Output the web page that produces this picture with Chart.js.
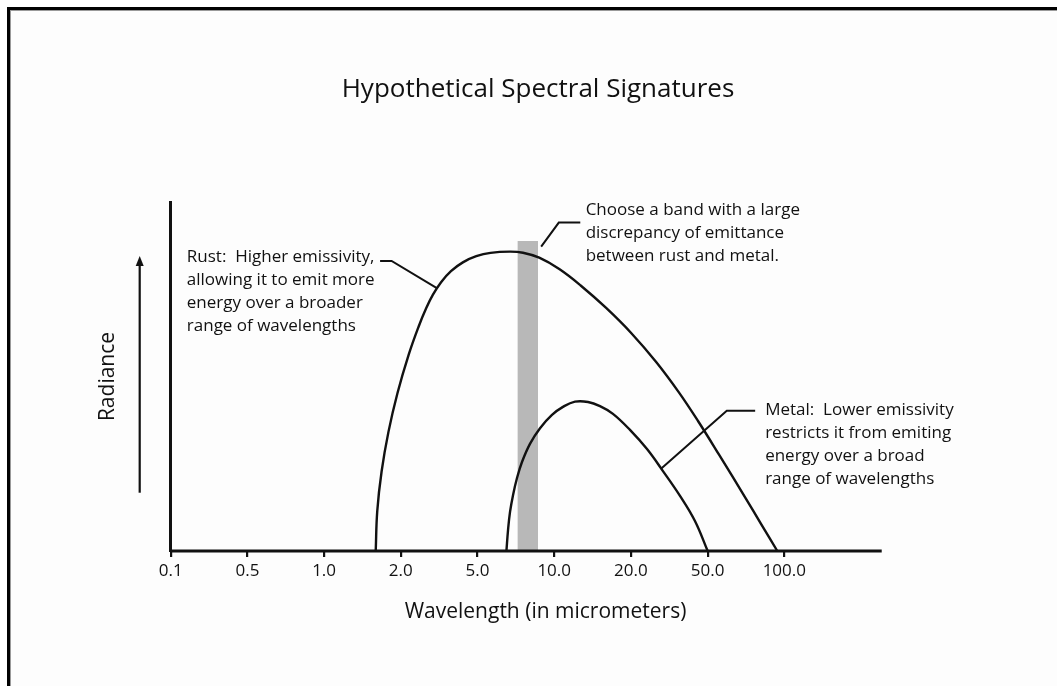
<!DOCTYPE html>
<html>
<head>
<meta charset="utf-8">
<title>Hypothetical Spectral Signatures</title>
<script src="https://cdn.jsdelivr.net/npm/chart.js@4.4.1/dist/chart.umd.min.js"></script>
<style>
  html, body { margin: 0; padding: 0; background: #fff; }
  #wrap { width: 1057px; height: 686px; position: relative; }
</style>
</head>
<body>
<div id="wrap"><canvas id="spectralChart"></canvas></div>
<script>
// Wavelength ticks (micrometers), evenly spaced on the axis
const tickLabels = ['0.1', '0.5', '1.0', '2.0', '5.0', '10.0', '20.0', '50.0', '100.0'];

// x = position on the tick scale (0 -> 0.1, 8 -> 100.0), y = radiance (0-100)
const rustX = [2.673, 2.693, 2.750, 2.839, 2.957, 3.103, 3.233, 3.332, 3.419, 3.525, 3.654, 3.809, 3.984,
  4.170, 4.424, 4.593, 4.805, 5.066, 5.345, 5.677, 6.009, 6.332, 6.621, 6.875, 7.151, 7.491, 7.700, 7.909];
const rustY = [0, 11.45, 22.84, 34.13, 45.28, 56.26, 64.34, 69.62, 73.45, 77.03, 80.19, 82.71, 84.46,
  85.43, 85.78, 85.46, 84.04, 80.79, 76.08, 69.63, 62.33, 54.08, 45.59, 37.25, 27.53, 15.30, 7.65, 0];

const metalX = [4.377, 4.398, 4.424, 4.463, 4.515, 4.580, 4.684, 4.815, 4.971, 5.114, 5.271, 5.441, 5.597,
  5.766, 5.988, 6.210, 6.418, 6.640, 6.835, 7.001];
const metalY = [0, 6.0, 11.2, 16.0, 20.9, 25.5, 30.7, 35.2, 39.0, 41.3, 42.8, 42.7, 41.5,
  39.3, 34.7, 29.2, 22.9, 15.8, 8.6, 0];

// chosen band
const bandX = [4.52, 4.79];
const bandTop = 88.8;

// the x axis line stops a little after the 100.0 tick
const axisX = [0, 9.27];

// radiance arrow (bottom, tip)
const radianceArrow = [16.7, 84.5];

const notes = [
  {
    lines: ['Rust:  Higher emissivity,', 'allowing it to emit more', 'energy over a broader', 'range of wavelengths'],
    at: [0.21, 84.3],
    leader: [[2.73, 83.1], [2.88, 83.1], [3.47, 75.3]]
  },
  {
    lines: ['Choose a band with a large', 'discrepancy of emittance', 'between rust and metal.'],
    at: [5.41, 97.7],
    leader: [[4.83, 87.2], [5.06, 94.1], [5.34, 94.1]]
  },
  {
    lines: ['Metal:  Lower emissivity', 'restricts it from emiting', 'energy over a broad', 'range of wavelengths'],
    at: [7.75, 40.4],
    leader: [[6.40, 23.7], [7.25, 40.2], [7.62, 40.2]]
  }
];

const zip = (xs, ys) => xs.map((x, i) => ({ x: x, y: ys[i] }));

Chart.defaults.font.family = '"Open Sans", "DejaVu Sans", sans-serif';
Chart.defaults.color = '#111';

const INK = '#111';

// page frame + white background
const framePlugin = {
  id: 'frame',
  beforeDraw(chart) {
    const ctx = chart.ctx;
    ctx.save();
    ctx.fillStyle = '#fdfdfd';
    ctx.fillRect(0, 0, chart.width, chart.height);
    ctx.fillStyle = '#000';
    ctx.fillRect(7, 7, chart.width - 7, 3);
    ctx.fillRect(7, 7, 3, chart.height - 7);
    ctx.fillStyle = '#9a9a9a';
    ctx.fillRect(10, 10, chart.width - 10, 1);
    ctx.fillRect(10, 10, 1, chart.height - 10);
    ctx.restore();
  }
};

// leader lines, callout text and the radiance arrow
const notesPlugin = {
  id: 'notes',
  afterDatasetsDraw(chart) {
    const { ctx, scales: { x, y }, chartArea } = chart;
    ctx.save();
    ctx.strokeStyle = INK;
    ctx.fillStyle = INK;
    ctx.lineWidth = 2;

    notes.forEach(n => {
      ctx.beginPath();
      n.leader.forEach((p, i) => {
        const px = x.getPixelForValue(p[0]);
        const py = y.getPixelForValue(p[1]);
        if (i === 0) ctx.moveTo(px, py); else ctx.lineTo(px, py);
      });
      ctx.stroke();

      ctx.font = '17px "Open Sans", sans-serif';
      ctx.textAlign = 'left';
      ctx.textBaseline = 'middle';
      const tx = x.getPixelForValue(n.at[0]);
      const ty = y.getPixelForValue(n.at[1]);
      n.lines.forEach((t, i) => ctx.fillText(t, tx, ty + i * 23));
    });

    // arrow beside the y axis
    const ax = chartArea.left - 31;
    const y0 = y.getPixelForValue(radianceArrow[0]);
    const y1 = y.getPixelForValue(radianceArrow[1]);
    ctx.lineWidth = 2.2;
    ctx.beginPath();
    ctx.moveTo(ax, y0);
    ctx.lineTo(ax, y1 + 8);
    ctx.stroke();
    ctx.beginPath();
    ctx.moveTo(ax, y1);
    ctx.lineTo(ax - 4, y1 + 10);
    ctx.lineTo(ax + 4, y1 + 10);
    ctx.closePath();
    ctx.fill();
    ctx.restore();
  }
};

const lineStyle = {
  borderColor: INK,
  borderWidth: 2.4,
  pointRadius: 0,
  tension: 0.4,
  fill: false,
  clip: false
};

new Chart(document.getElementById('spectralChart'), {
  type: 'line',
  data: {
    datasets: [
      Object.assign({ label: 'Rust', data: zip(rustX, rustY) }, lineStyle),
      Object.assign({ label: 'Metal', data: zip(metalX, metalY) }, lineStyle),
      {
        label: 'Axis',
        data: zip(axisX, [0, 0]),
        borderColor: INK,
        borderWidth: 3,
        pointRadius: 0,
        clip: false
      },
      {
        label: 'Band',
        data: zip(bandX, [bandTop, bandTop]),
        borderWidth: 0,
        pointRadius: 0,
        backgroundColor: '#b8b8b8',
        fill: 'origin'
      }
    ]
  },
  options: {
    responsive: true,
    maintainAspectRatio: false,
    animation: false,
    events: [],
    layout: { padding: { left: 19, right: 0, top: 0, bottom: 0 } },
    plugins: {
      legend: { display: false },
      tooltip: { enabled: false },
      title: {
        display: true,
        text: 'Hypothetical Spectral Signatures',
        font: { size: 26, weight: 'normal' },
        color: INK,
        padding: { top: 74.4, bottom: 96.4 }
      }
    },
    scales: {
      x: {
        type: 'linear',
        min: 0,
        max: 9.773,
        afterBuildTicks(s) { s.ticks = tickLabels.map((t, i) => ({ value: i })); },
        afterFit(s) { s.height = 135; },
        ticks: {
          padding: 3.5,
          font: { size: 17 },
          color: INK,
          callback: v => tickLabels[v]
        },
        grid: { drawOnChartArea: false, tickLength: 6, lineWidth: 2.2, color: INK },
        border: { display: false },
        title: {
          display: true,
          text: 'Wavelength (in micrometers)',
          font: { size: 21 },
          color: INK,
          padding: { top: 0, bottom: 61.7 }
        }
      },
      y: {
        min: 0,
        max: 100,
        afterFit(s) { s.width = 151.7; },
        ticks: { display: false },
        grid: { display: false },
        border: { display: true, color: INK, width: 3 },
        title: {
          display: true,
          text: 'Radiance',
          font: { size: 21 },
          color: INK,
          padding: { top: 76.4, bottom: 0 }
        }
      },
      yRight: {
        position: 'right',
        afterFit(s) { s.width = 136.7; },
        ticks: { display: false },
        grid: { display: false },
        border: { display: false }
      }
    }
  },
  plugins: [framePlugin, notesPlugin]
});
</script>
</body>
</html>
